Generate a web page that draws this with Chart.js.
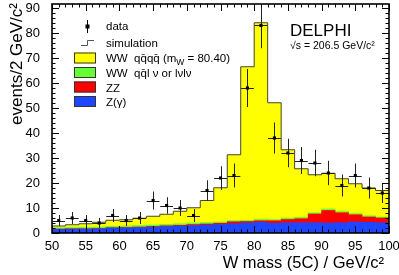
<!DOCTYPE html>
<html>
<head>
<meta charset="utf-8">
<script src="https://cdn.jsdelivr.net/npm/chart.js@4.4.0/dist/chart.umd.min.js"></script>
<style>
  html, body { margin: 0; padding: 0; background: #fff; }
  #wrap { width: 399px; height: 275px; }
</style>
</head>
<body>
<div id="wrap"><canvas id="myChart" width="399" height="275"></canvas></div>
<script>
// W mass histogram, 2 GeV/c2 bins from 50 to 100
const massBins = [51, 53, 55, 57, 59, 61, 63, 65, 67, 69, 71, 73, 75, 77, 79, 81, 83, 85, 87, 89, 91, 93, 95, 97, 99];
const binEdges = [50, 52, 54, 56, 58, 60, 62, 64, 66, 68, 70, 72, 74, 76, 78, 80, 82, 84, 86, 88, 90, 92, 94, 96, 98, 100];

// data points and their errors
const dataEvents = [5, 6, 5, 4, 7, 5, 6, 13, 11, 10, 7, 17, 22, 23, 58, 83, 38, 32, 29, 28, 24, 19, 23, 18, 16];
const dataErr = [2.2, 2.4, 2.2, 2.0, 2.6, 2.2, 2.4, 3.6, 3.3, 3.2, 2.6, 4.1, 4.7, 4.8, 7.6, 9.1, 6.2, 5.7, 5.4, 5.3, 4.9, 4.4, 4.8, 4.2, 4.0];

// simulation, stacked from the bottom
const zGamma = [1.5, 1.6, 1.6, 1.7, 2.0, 2.0, 2.2, 2.4, 2.6, 2.8, 3.0, 3.2, 3.4, 3.7, 4.0, 4.3, 3.9, 4.1, 4.1, 4.1, 4.0, 4.1, 4.4, 4.3, 4.1];
const zzBkg = [0.1, 0.1, 0.1, 0.1, 0.1, 0.2, 0.2, 0.2, 0.3, 0.3, 0.4, 0.4, 0.5, 0.8, 0.6, 0.6, 1.0, 1.3, 1.6, 3.5, 5.0, 4.0, 2.9, 2.1, 1.9];
const wwSemi = [0.5, 0.5, 0.6, 0.6, 0.6, 0.6, 0.6, 0.6, 0.6, 0.6, 0.6, 0.6, 0.5, 0.5, 0.5, 0.6, 0.5, 0.6, 0.6, 0.5, 0.6, 0.5, 0.5, 0.5, 0.4];
const wwHad = [0.7, 1.1, 1.4, 1.9, 2.4, 2.5, 2.9, 3.5, 4.0, 5.0, 6.1, 8.8, 13.7, 26.3, 61.4, 78.6, 46.7, 27.3, 19.4, 15.2, 14.3, 13.1, 11.9, 11.1, 10.6];
const simTotal = [2.8, 3.3, 3.7, 4.3, 5.1, 5.3, 5.9, 6.7, 7.5, 8.7, 10.1, 13.0, 18.1, 31.3, 66.5, 84.1, 52.1, 33.3, 25.7, 23.3, 23.9, 21.7, 19.7, 18.0, 17.0];

const xTicks = [50, 55, 60, 65, 70, 75, 80, 85, 90, 95, 100];
const yTicks = [0, 10, 20, 30, 40, 50, 60, 70, 80, 90];

const FONT = "'Liberation Sans', Arial, Helvetica, sans-serif";

function pts(vals) {
  return massBins.map((m, i) => ({ x: m, y: vals[i] }));
}

// outline of the simulation: one point per left bin edge, last one repeated
const outline = binEdges.map((e, i) => ({ x: e, y: simTotal[Math.min(i, simTotal.length - 1)] }));

// frame, inner ticks, error bars, legend and labels
const delphiDecor = {
  id: 'delphiDecor',
  beforeDatasetDraw(chart, args) {
    if (args.index !== 5) return;
    const { ctx, chartArea: a, scales: { x, y } } = chart;
    ctx.save();
    ctx.beginPath();
    ctx.rect(a.left, a.top, a.right - a.left, a.bottom - a.top);
    ctx.clip();
    ctx.strokeStyle = '#222';
    ctx.lineWidth = 1;
    for (let i = 0; i < massBins.length; i++) {
      const px = Math.round(x.getPixelForValue(massBins[i])) + 0.5;
      const py = Math.round(y.getPixelForValue(dataEvents[i])) + 0.5;
      ctx.beginPath();
      ctx.moveTo(px, y.getPixelForValue(dataEvents[i] - dataErr[i]));
      ctx.lineTo(px, y.getPixelForValue(dataEvents[i] + dataErr[i]));
      ctx.moveTo(x.getPixelForValue(massBins[i] - 0.95), py);
      ctx.lineTo(x.getPixelForValue(massBins[i] + 0.95), py);
      ctx.stroke();
    }
    ctx.restore();
  },
  afterDraw(chart) {
    const { ctx, chartArea: a, scales: { x, y } } = chart;
    ctx.save();
    // ticks pointing inwards on all four sides
    ctx.strokeStyle = '#000';
    ctx.lineWidth = 1;
    ctx.beginPath();
    for (let v = 50; v <= 100; v++) {
      const px = Math.round(x.getPixelForValue(v)) + 0.5;
      const len = v % 5 === 0 ? 7 : 3.5;
      ctx.moveTo(px, a.bottom); ctx.lineTo(px, a.bottom - len);
      ctx.moveTo(px, a.top); ctx.lineTo(px, a.top + len);
    }
    for (let v = 0; v <= 90; v += 2) {
      const py = Math.round(y.getPixelForValue(v)) + 0.5;
      const len = v % 10 === 0 ? 7 : 3.5;
      ctx.moveTo(a.left, py); ctx.lineTo(a.left + len, py);
      ctx.moveTo(a.right, py); ctx.lineTo(a.right - len, py);
    }
    ctx.stroke();
    ctx.lineWidth = 1.6;
    ctx.strokeRect(a.left, a.top, a.right - a.left, a.bottom - a.top);

    // legend
    ctx.fillStyle = '#000';
    ctx.strokeStyle = '#000';
    ctx.lineWidth = 1;
    ctx.beginPath();
    ctx.moveTo(87.5, 20); ctx.lineTo(87.5, 33);
    ctx.stroke();
    ctx.fillRect(85.5, 24.5, 4, 4);
    ctx.strokeStyle = '#555';
    ctx.beginPath();
    ctx.moveTo(81, 45.5); ctx.lineTo(87.5, 45.5); ctx.lineTo(87.5, 40.5); ctx.lineTo(94, 40.5);
    ctx.stroke();
    const boxes = [['#ffff00', 52.5], ['#66ff33', 67], ['#ff0000', 81.5], ['#1e46ff', 96]];
    ctx.strokeStyle = '#333';
    boxes.forEach(([c, top]) => {
      ctx.fillStyle = c;
      ctx.fillRect(74, top, 22, 11);
      ctx.strokeRect(74.5, top + 0.5, 21, 10);
    });

    ctx.fillStyle = '#000';
    ctx.textBaseline = 'alphabetic';
    ctx.textAlign = 'left';
    ctx.font = '11.5px ' + FONT;
    ctx.fillText('data', 106, 30);
    ctx.fillText('simulation', 106, 47);
    ctx.fillText('WW  qq\u0304qq\u0304 (m', 106, 62);
    let w = ctx.measureText('WW  qq\u0304qq\u0304 (m').width;
    ctx.font = '8.5px ' + FONT;
    ctx.fillText('W', 106 + w, 65);
    const ws = ctx.measureText('W').width;
    ctx.font = '11.5px ' + FONT;
    ctx.fillText(' = 80.40)', 106 + w + ws, 62);
    ctx.fillText('WW  qq\u0304l \u03bd or l\u03bdl\u03bd', 106, 77);
    ctx.fillText('ZZ', 106, 91.5);
    ctx.fillText('Z(\u03b3)', 106, 106);

    // experiment label
    ctx.font = '17px ' + FONT;
    ctx.fillText('DELPHI', 290, 36);
    ctx.font = '10.5px ' + FONT;
    ctx.fillText('\u221as = 206.5 GeV/c\u00b2', 290, 49);

    // axis titles
    ctx.font = '16.5px ' + FONT;
    ctx.textAlign = 'right';
    ctx.fillText('W mass (5C) / GeV/c\u00b2', 384, 268);
    ctx.save();
    ctx.translate(22, 3);
    ctx.rotate(-Math.PI / 2);
    ctx.font = '17px ' + FONT;
    ctx.fillText('events/2 GeV/c\u00b2', 0, 0);
    ctx.restore();
    ctx.restore();
  }
};

const ctx = document.getElementById('myChart').getContext('2d');
const myChart = new Chart(ctx, {
  type: 'bar',
  data: {
    datasets: [
      { label: 'Z(\u03b3)', data: pts(zGamma), backgroundColor: '#1e46ff', stack: 'sim', order: 2 },
      { label: 'ZZ', data: pts(zzBkg), backgroundColor: '#ff0000', stack: 'sim', order: 2 },
      { label: 'WW qqlv', data: pts(wwSemi), backgroundColor: '#66ff33', stack: 'sim', order: 2 },
      { label: 'WW qqqq', data: pts(wwHad), backgroundColor: '#ffff00', stack: 'sim', order: 2 },
      {
        type: 'line', label: 'simulation', data: outline, stepped: 'before',
        borderColor: '#444', borderWidth: 1, pointRadius: 0, fill: false, stack: 'outline', order: 1
      },
      {
        type: 'scatter', label: 'data', data: pts(dataEvents), pointStyle: 'rect',
        pointRadius: 2.2, backgroundColor: '#000', borderWidth: 0, stack: 'points', order: 0
      }
    ]
  },
  options: {
    responsive: false,
    animation: false,
    devicePixelRatio: 1,
    layout: { padding: { top: 3, right: 10, left: 0, bottom: 0 } },
    datasets: { bar: { barPercentage: 1, categoryPercentage: 1, borderWidth: 0 } },
    plugins: { legend: { display: false }, tooltip: { enabled: false } },
    scales: {
      x: {
        type: 'linear', min: 50, max: 100, offset: false, stacked: true,
        grid: { display: false, drawTicks: false }, border: { display: false },
        ticks: { color: '#000', font: { size: 13, family: FONT }, padding: 6, maxRotation: 0, autoSkip: false },
        afterBuildTicks: (s) => { s.ticks = xTicks.map(v => ({ value: v })); },
        afterFit: (s) => { s.height = 42; s.paddingLeft = 0; s.paddingRight = 0; }
      },
      y: {
        min: 0, max: 91.6, stacked: true,
        grid: { display: false, drawTicks: false }, border: { display: false },
        ticks: { color: '#000', font: { size: 13, family: FONT }, padding: 12, autoSkip: false },
        afterBuildTicks: (s) => { s.ticks = yTicks.map(v => ({ value: v })); },
        afterFit: (s) => { s.width = 52; s.paddingTop = 0; s.paddingBottom = 0; }
      }
    }
  },
  plugins: [delphiDecor]
});
</script>
</body>
</html>
